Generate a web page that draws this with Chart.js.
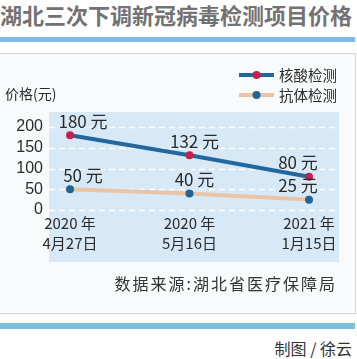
<!DOCTYPE html>
<html>
<head>
<meta charset="utf-8">
<script src="https://cdn.jsdelivr.net/npm/chart.js@4/dist/chart.umd.min.js"></script>
<style>
  html, body { margin: 0; padding: 0; background: #ffffff; }
  body { width: 357px; height: 359px; position: relative; overflow: hidden; font-family: "Noto Sans CJK SC", "Noto Sans", sans-serif; }
  #title { position: absolute; left: 0; top: 0; width: 357px; line-height: 28px; font-size: 22px; font-weight: bold; color: #727272; white-space: nowrap; }
  .bar { position: absolute; left: 0; width: 355px; background: #7dbde2; }
  #box { position: absolute; left: -2px; top: 53px; width: 356px; height: 259px; border: 1px solid #d4d4d4; background: #f9fafc; }
  #chart { position: absolute; left: 0; top: 53px; }
  #source { position: absolute; right: 20px; top: 272px; line-height: 22px; font-size: 16px; letter-spacing: 2px; color: #333; white-space: nowrap; }
  #credit { position: absolute; right: 5px; top: 337px; line-height: 22px; font-size: 16px; color: #333; white-space: nowrap; }
</style>
</head>
<body>
<div id="title">湖北三次下调新冠病毒检测项目价格</div>
<div class="bar" style="top:37px;height:5px;"></div>
<div id="box"></div>
<canvas id="chart" width="357" height="260"></canvas>
<div id="source">数据来源:湖北省医疗保障局</div>
<div class="bar" style="top:323px;height:6px;"></div>
<div id="credit">制图 / 徐云</div>
<script>
const categories = [["2020 年", "4月27日"], ["2020 年", "5月16日"], ["2021 年", "1月15日"]];
const seriesNames = ["核酸检测", "抗体检测"];
const nucleicPrices = [180, 132, 80];
const antibodyPrices = [50, 40, 25];
const yTicks = [0, 50, 100, 150, 200];
const yTitle = "价格(元)";
const unit = " 元";

const bgPlugin = {
  id: 'bgGrid',
  beforeDraw(chart) {
    const ctx = chart.ctx, a = chart.chartArea, y = chart.scales.y;
    const left = a.left - 21, right = a.right + 30;
    ctx.save();
    ctx.fillStyle = '#d7e9f6';
    ctx.fillRect(left, a.top - 15, right - left, (a.bottom + 52) - (a.top - 15));
    ctx.strokeStyle = '#ffffff';
    ctx.lineWidth = 1.5;
    ctx.setLineDash([6, 4]);
    yTicks.forEach(v => {
      const py = Math.round(y.getPixelForValue(v)) + 0.5;
      ctx.beginPath(); ctx.moveTo(left, py); ctx.lineTo(right, py); ctx.stroke();
    });
    ctx.restore();
  },
  afterDatasetsDraw(chart) {
    const ctx = chart.ctx;
    ctx.save();
    ctx.font = '17px "Noto Sans CJK SC", sans-serif';
    ctx.fillStyle = '#2a2a2a';
    ctx.textAlign = 'center';
    ctx.textBaseline = 'middle';
    chart.data.datasets.forEach((ds, di) => {
      const meta = chart.getDatasetMeta(di);
      const n = ds.data.length;
      meta.data.forEach((pt, i) => {
        const dx = i === 0 ? 13 : (i === n - 1 ? -11 : 5);
        ctx.fillText(ds.data[i] + unit, pt.x + dx, pt.y - 14);
      });
    });
    // y title
    ctx.font = '14px "Noto Sans CJK SC", sans-serif';
    ctx.textAlign = 'left';
    ctx.fillStyle = '#2a2a2a';
    ctx.fillText(yTitle, 5, 41);
    // legend
    chart.data.datasets.forEach((ds, di) => {
      const ly = 22 + di * 20;
      ctx.strokeStyle = ds.borderColor;
      ctx.lineWidth = 4;
      ctx.setLineDash([]);
      ctx.beginPath(); ctx.moveTo(239, ly); ctx.lineTo(274, ly); ctx.stroke();
      ctx.fillStyle = ds.pointBackgroundColor;
      ctx.beginPath(); ctx.arc(256.5, ly, 4, 0, Math.PI * 2); ctx.fill();
      ctx.fillStyle = '#2a2a2a';
      ctx.font = '14.5px "Noto Sans CJK SC", sans-serif';
      ctx.textAlign = 'left';
      ctx.fillText(ds.label, 279, ly);
    });
    ctx.restore();
  }
};

new Chart(document.getElementById('chart'), {
  type: 'line',
  data: {
    labels: categories,
    datasets: [
      { label: seriesNames[0], data: nucleicPrices, borderColor: '#22679d', borderWidth: 4,
        pointBackgroundColor: '#c4214c', pointBorderWidth: 0, pointRadius: 4, tension: 0 },
      { label: seriesNames[1], data: antibodyPrices, borderColor: '#ebc4a5', borderWidth: 4,
        pointBackgroundColor: '#1f6596', pointBorderWidth: 0, pointRadius: 4, tension: 0 }
    ]
  },
  options: {
    responsive: false,
    animation: false,
    layout: { padding: { top: 74, right: 48, left: 0, bottom: 0 } },
    plugins: { legend: { display: false }, tooltip: { enabled: false } },
    scales: {
      x: {
        offset: false,
        grid: { display: false, drawTicks: false },
        border: { display: false },
        ticks: { padding: 3, color: '#2a2a2a', font: { size: 15, family: '"Noto Sans CJK SC", sans-serif', lineHeight: 1.35 }, maxRotation: 0, autoSkip: false },
        afterFit(s) { s.height = 103; }
      },
      y: {
        min: 0, max: 200,
        afterBuildTicks(s) { s.ticks = yTicks.map(v => ({ value: v })); },
        grid: { display: false, drawTicks: false },
        border: { display: false },
        ticks: { padding: 27, autoSkip: false, color: '#2a2a2a', font: { size: 16, family: '"Liberation Sans", Arial, sans-serif' } },
        afterFit(s) { s.width = 70; }
      }
    }
  },
  plugins: [bgPlugin]
});
</script>
</body>
</html>
